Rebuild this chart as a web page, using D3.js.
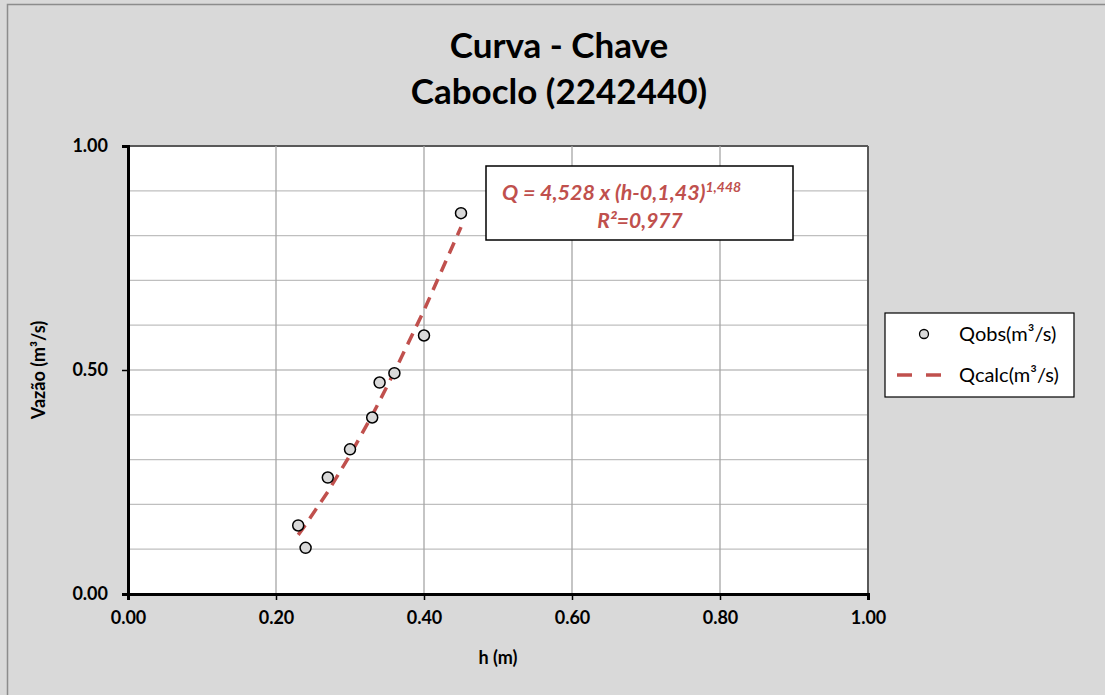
<!DOCTYPE html>
<html><head><meta charset="utf-8">
<script src="https://cdn.jsdelivr.net/npm/d3@7"></script>
<style>
html,body{margin:0;padding:0;background:#d9d9d9;}
svg{display:block;}
text{font-family:Lato,"Open Sans",sans-serif;}
</style></head>
<body>
<svg id="chart" width="1105" height="695"></svg>
<script>
// Data
const hObs = [0.23, 0.24, 0.27, 0.30, 0.33, 0.34, 0.36, 0.40, 0.45];
const qObs = [0.153, 0.103, 0.260, 0.323, 0.394, 0.472, 0.493, 0.577, 0.850];
const hCalc = [0.23, 0.24, 0.27, 0.30, 0.33, 0.34, 0.36, 0.40, 0.45];
const qCalc = [0.132, 0.155, 0.228, 0.310, 0.399, 0.431, 0.496, 0.633, 0.819];
const xTicks = [0, 0.2, 0.4, 0.6, 0.8, 1.0];
const yTicks = [0, 0.5, 1.0];
const yGrid = [0.1,0.2,0.3,0.4,0.5,0.6,0.7,0.8,0.9,1.0];
const titleLines = ["Curva - Chave", "Caboclo (2242440)"];
const seriesNames = ["Qobs(m³/s)", "Qcalc(m³/s)"];

const svg = d3.select("#chart");
const red = "#c0504d";

// outer border
svg.append("rect").attr("x",7.5).attr("y",4.5).attr("width",1110).attr("height",700)
  .attr("fill","#d9d9d9").attr("stroke","#8c8c8c").attr("stroke-width",1.5);

const L=128, R=868, T=146, B=594;
const x = d3.scaleLinear().domain([0,1]).range([L,R]);
const y = d3.scaleLinear().domain([0,1]).range([B,T]);

svg.append("rect").attr("x",L).attr("y",T).attr("width",R-L).attr("height",B-T).attr("fill","#fff");

// grid
svg.append("g").selectAll("line").data(yGrid).join("line")
  .attr("x1",L).attr("x2",R).attr("y1",d=>y(d)).attr("y2",d=>y(d))
  .attr("stroke",d=>d===1?"#595959":"#bfbfbf").attr("stroke-width",d=>d===1?2:1.3);
svg.append("g").selectAll("line").data(xTicks.slice(1)).join("line")
  .attr("x1",d=>x(d)).attr("x2",d=>x(d)).attr("y1",T).attr("y2",B)
  .attr("stroke",d=>d===1?"#595959":"#a6a6a6").attr("stroke-width",d=>d===1?2:1.3);

// axes
const xAxis = d3.axisBottom(x).tickValues(xTicks).tickFormat(d3.format(".2f")).tickSize(6).tickPadding(11);
const gx = svg.append("g").attr("transform",`translate(0,${B})`).call(xAxis);
gx.select(".domain").attr("stroke","#000").attr("stroke-width",3);
gx.selectAll(".tick line").attr("stroke","#000").attr("stroke-width",1.5);
gx.selectAll("text").attr("font-size",18).attr("font-weight","bold").attr("fill","#000")
  .attr("font-family","Lato,sans-serif");

const yAxis = d3.axisLeft(y).tickValues(yTicks).tickFormat(d3.format(".2f")).tickSize(6).tickPadding(14);
const gy = svg.append("g").attr("transform",`translate(${L},0)`).call(yAxis);
gy.select(".domain").attr("stroke","#000").attr("stroke-width",3);
gy.selectAll(".tick line").attr("stroke","#000").attr("stroke-width",1.5);
gy.selectAll("text").attr("font-size",18).attr("font-weight","bold").attr("fill","#000")
  .attr("font-family","Lato,sans-serif");

// axis titles
svg.append("text").attr("x",498).attr("y",664).attr("text-anchor","middle")
  .attr("font-size",18).attr("font-weight","bold").text("h (m)");
svg.append("text").attr("transform","translate(45,370) rotate(-90)").attr("text-anchor","middle")
  .attr("font-size",18).attr("font-weight","bold").text("Vazão (m³/s)");

// title
svg.append("text").attr("x",559).attr("y",58).attr("text-anchor","middle")
  .attr("font-size",35).attr("font-weight","bold").text(titleLines[0]);
svg.append("text").attr("x",559).attr("y",104).attr("text-anchor","middle")
  .attr("font-size",35).attr("font-weight","bold").text(titleLines[1]);

// calc line
const line = d3.line().x((d,i)=>x(hCalc[i])).y(d=>y(d));
svg.append("path").datum(qCalc).attr("d",line).attr("fill","none")
  .attr("stroke",red).attr("stroke-width",3.5).attr("stroke-dasharray","12,8");

// obs points
svg.append("g").selectAll("circle").data(qObs).join("circle")
  .attr("cx",(d,i)=>x(hObs[i])).attr("cy",d=>y(d)).attr("r",5.5)
  .attr("fill","#d9d9d9").attr("stroke","#000").attr("stroke-width",1.5);

// equation box
svg.append("rect").attr("x",486).attr("y",166).attr("width",307).attr("height",74)
  .attr("fill","#fff").attr("stroke","#000").attr("stroke-width",1.5);
const eq = svg.append("text").attr("x",502).attr("y",200).attr("font-size",21.5)
  .attr("font-weight","bold").attr("font-style","italic").attr("fill",red);
eq.append("tspan").text("Q = 4,528 x (h-0,1,43)");
eq.append("tspan").attr("dy",-8).attr("font-size",14).text("1,448");
svg.append("text").attr("x",640).attr("y",228).attr("text-anchor","middle").attr("font-size",21)
  .attr("font-weight","bold").attr("font-style","italic").attr("fill",red).text("R²=0,977");

// legend
svg.append("rect").attr("x",885).attr("y",313).attr("width",189).attr("height",84)
  .attr("fill","#fff").attr("stroke","#000").attr("stroke-width",1.2);
svg.append("circle").attr("cx",924).attr("cy",334).attr("r",4.5)
  .attr("fill","#d9d9d9").attr("stroke","#000").attr("stroke-width",1.3);
svg.append("line").attr("x1",897).attr("x2",944).attr("y1",375).attr("y2",375)
  .attr("stroke",red).attr("stroke-width",3.5).attr("stroke-dasharray","15,14");
svg.append("text").attr("x",959).attr("y",341).attr("font-size",20).text(seriesNames[0]);
svg.append("text").attr("x",959).attr("y",382).attr("font-size",20).text(seriesNames[1]);
</script>
</body></html>
